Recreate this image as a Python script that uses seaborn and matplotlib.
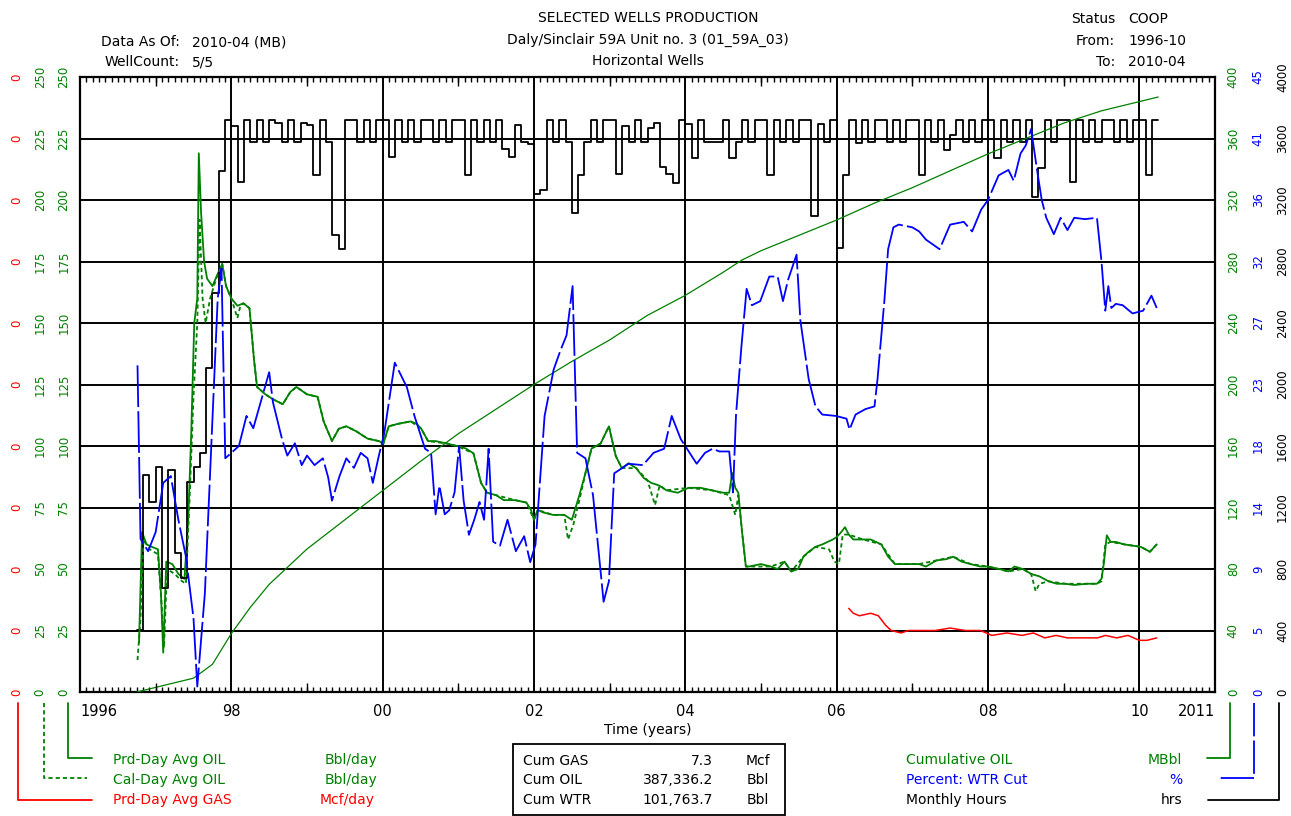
import pandas as pd
import matplotlib
matplotlib.use('Agg')
import matplotlib.pyplot as plt
import seaborn as sns
from matplotlib.patches import Rectangle
from matplotlib.lines import Line2D
from matplotlib.ticker import FixedLocator, FixedFormatter, MultipleLocator

sns.set_theme(style='white')
plt.rcParams['font.family'] = ['DejaVu Sans']
plt.rcParams['lines.scale_dashes'] = False

GREEN = '#008000'
BLUE = '#0000ff'
RED = '#ff0000'

# ---------------- data ----------------
# monthly hours, 1996-10 .. 2010-03
monthly_hours = [
    403, 1411, 1236,
    1463, 676, 1444, 904, 741, 1366, 1463, 1555, 2110, 2598, 3389, 3720,
    3681, 3314, 3720, 3580, 3720, 3580, 3720, 3703, 3580, 3720, 3580, 3703,
    3685, 3364, 3720, 3580, 2970, 2883, 3720, 3720, 3580, 3720, 3580, 3720,
    3720, 3478, 3720, 3580, 3720, 3580, 3720, 3720, 3580, 3720, 3580, 3720,
    3720, 3364, 3720, 3580, 3720, 3580, 3720, 3532, 3478, 3685, 3580, 3565,
    3239, 3265, 3720, 3580, 3720, 3580, 3117, 3364, 3580, 3720, 3580, 3720,
    3720, 3370, 3681, 3580, 3720, 3580, 3670, 3703, 3414, 3370, 3309, 3720,
    3697, 3475, 3720, 3580, 3580, 3580, 3720, 3475, 3580, 3720, 3580, 3720,
    3720, 3362, 3720, 3580, 3720, 3580, 3720, 3720, 3097, 3697, 3580, 3720,
    2890, 3362, 3720, 3568, 3720, 3580, 3720, 3720, 3580, 3720, 3580, 3720,
    3720, 3362, 3720, 3580, 3720, 3524, 3622, 3720, 3580, 3720, 3580, 3720,
    3720, 3475, 3720, 3580, 3720, 3580, 3720, 3218, 3406, 3720, 3580, 3720,
    3720, 3319, 3720, 3580, 3720, 3580, 3720, 3720, 3580, 3720, 3580, 3720,
    3720, 3362, 3720,
]

prd_oil_t = [1996.78, 1996.82, 1996.88, 1996.95, 1997.03, 1997.07, 1997.10, 1997.14, 1997.22, 1997.30,
             1997.38, 1997.43, 1997.47, 1997.51, 1997.55, 1997.57, 1997.60, 1997.64, 1997.68, 1997.75,
             1997.82, 1997.88, 1997.93, 1998.00, 1998.08, 1998.16, 1998.24, 1998.30, 1998.34, 1998.45,
             1998.55, 1998.68, 1998.78, 1998.86, 1999.00, 1999.14, 1999.22, 1999.33, 1999.42, 1999.52,
             1999.65, 1999.80, 1999.95, 2000.01, 2000.08, 2000.20, 2000.37, 2000.45, 2000.51, 2000.60,
             2000.70, 2000.85, 2000.98, 2001.10, 2001.20, 2001.30, 2001.38, 2001.50, 2001.60, 2001.75,
             2001.90, 2001.96, 2002.00, 2002.05, 2002.12, 2002.25, 2002.40, 2002.50, 2002.60, 2002.68,
             2002.76, 2002.88, 2002.99, 2003.08, 2003.16, 2003.25, 2003.35, 2003.45, 2003.55, 2003.65,
             2003.75, 2003.90, 2004.04, 2004.20, 2004.35, 2004.50, 2004.58, 2004.62, 2004.66, 2004.70,
             2004.75, 2004.80, 2004.84, 2005.00, 2005.13, 2005.22, 2005.31, 2005.40, 2005.49, 2005.56,
             2005.63, 2005.72, 2005.81, 2005.95, 2006.00, 2006.06, 2006.11, 2006.16, 2006.22, 2006.35,
             2006.45, 2006.59, 2006.68, 2006.77, 2006.90, 2007.09, 2007.18, 2007.32, 2007.45, 2007.54,
             2007.65, 2007.77, 2007.90, 2008.00, 2008.15, 2008.27, 2008.35, 2008.46, 2008.57, 2008.68,
             2008.80, 2008.91, 2009.02, 2009.14, 2009.30, 2009.44, 2009.50, 2009.53, 2009.57, 2009.62,
             2009.69, 2009.80, 2009.91, 2010.02, 2010.14, 2010.23]
prd_oil = [20, 65, 60, 59, 58, 40, 16, 53, 52, 48,
           46, 70, 105, 150, 160, 219, 195, 175, 168, 165,
           170, 174, 165, 160, 157, 158, 156, 135, 124, 121,
           119, 117, 122, 124, 121, 120, 110, 102, 107, 108,
           106, 103, 102, 101, 108, 109, 110, 109, 107, 102,
           102, 101, 100, 99, 97, 85, 81, 80, 78, 78,
           77, 74, 70, 74, 73, 72, 72, 70, 80, 89,
           99, 101, 108, 96, 91, 93, 91, 87, 85, 84,
           82, 81, 83, 83, 82, 81, 81, 89, 83, 81,
           65, 51, 51, 52, 51, 50, 53, 49, 50, 55,
           57, 59, 60, 62, 63, 65, 67, 64, 62, 62,
           62, 60, 55, 52, 52, 52, 51, 53.5, 54, 55,
           53, 52, 51, 51, 50, 49, 51, 50, 48, 47,
           45, 44, 44, 43.5, 44, 44, 46, 52, 63.7, 61,
           61, 60, 59.5, 59, 57, 60]

cal_oil_t = [1996.76, 1996.80, 1996.84, 1996.92, 1997.03, 1997.08, 1997.11, 1997.15, 1997.25, 1997.35,
             1997.40, 1997.45, 1997.50, 1997.55, 1997.58, 1997.62, 1997.66, 1997.72, 1997.80, 1997.88,
             1997.93, 1998.00, 1998.08, 1998.12, 1998.16, 1998.24, 1998.30, 1998.34, 1998.45, 1998.55,
             1998.68, 1998.78, 1998.86, 1999.00, 1999.14, 1999.22, 1999.33, 1999.42, 1999.52, 1999.65,
             1999.80, 1999.95, 2000.01, 2000.08, 2000.20, 2000.37, 2000.51, 2000.60, 2000.85, 2000.98,
             2001.20, 2001.30, 2001.38, 2001.50, 2001.75, 2001.90, 2002.00, 2002.05, 2002.25, 2002.40,
             2002.45, 2002.52, 2002.60, 2002.68, 2002.76, 2002.88, 2002.99, 2003.08, 2003.16, 2003.35,
             2003.50, 2003.60, 2003.66, 2003.75, 2004.04, 2004.35, 2004.58, 2004.62, 2004.66, 2004.70,
             2004.75, 2004.80, 2004.84, 2005.13, 2005.31, 2005.40, 2005.56, 2005.72, 2005.90, 2005.97,
             2006.03, 2006.08, 2006.16, 2006.35, 2006.59, 2006.77, 2007.09, 2007.32, 2007.54, 2007.77,
             2008.00, 2008.27, 2008.46, 2008.57, 2008.63, 2008.68, 2008.80, 2009.02, 2009.30, 2009.44,
             2009.50, 2009.55, 2009.62, 2009.80, 2010.02, 2010.14, 2010.23]
cal_oil = [13, 30, 62, 58, 56, 35, 18, 50, 48, 45,
           44, 80, 120, 150, 192, 160, 150, 160, 168, 174,
           165, 160, 152, 157, 158, 156, 135, 124, 121, 119,
           117, 122, 124, 121, 120, 110, 102, 107, 108, 106,
           103, 102, 101, 108, 109, 110, 107, 102, 101, 100,
           97, 85, 81, 80, 78, 77, 70, 74, 72, 72,
           62, 68, 78, 89, 99, 101, 108, 96, 91, 91,
           86, 76, 84, 82, 83, 82, 80, 76, 72, 80,
           65, 51, 51, 51, 53, 49, 55, 59, 58, 53,
           52, 64, 64, 62, 60, 52, 52, 53.5, 55, 52,
           51, 49, 50, 48, 41, 44, 45, 44, 44, 44,
           45, 60, 61, 60, 59, 57, 60]

gas_t = [2006.16, 2006.22, 2006.30, 2006.45, 2006.55, 2006.65, 2006.72, 2006.85, 2006.95, 2007.10,
         2007.30, 2007.50, 2007.70, 2007.90, 2008.05, 2008.25, 2008.45, 2008.60, 2008.75, 2008.90,
         2009.05, 2009.25, 2009.45, 2009.55, 2009.70, 2009.85, 2010.00, 2010.10, 2010.23]
gas_rate = [0.034, 0.032, 0.031, 0.032, 0.031, 0.027, 0.025, 0.024, 0.025, 0.025,
            0.025, 0.026, 0.025, 0.025, 0.023, 0.024, 0.023, 0.024, 0.022, 0.023,
            0.022, 0.022, 0.022, 0.023, 0.022, 0.023, 0.021, 0.021, 0.022]

cum_t = [1996.75, 1997.00, 1997.50, 1997.75, 1998.00, 1998.25, 1998.50, 1999.00, 1999.50, 2000.00,
         2000.50, 2001.00, 2001.50, 2002.00, 2002.50, 2003.00, 2003.50, 2004.00, 2004.50, 2004.75,
         2005.00, 2005.50, 2006.00, 2006.50, 2007.00, 2007.50, 2008.00, 2008.50, 2009.00, 2009.50,
         2010.00, 2010.25]
cum_oil = [0, 3, 9, 18, 38, 55, 70, 93, 112, 131,
           150, 168, 184, 200, 215, 229, 245, 258, 273, 281,
           287, 297, 307, 318, 328, 339, 350, 360, 370, 378,
           384, 387]

wc_t = [1996.76, 1996.80, 1996.90, 1997.00, 1997.10, 1997.20, 1997.30, 1997.40, 1997.50, 1997.55,
        1997.65, 1997.75, 1997.82, 1997.87, 1997.92, 1998.00, 1998.10, 1998.20, 1998.29, 1998.50,
        1998.55, 1998.67, 1998.74, 1998.84, 1998.93, 1999.00, 1999.10, 1999.21, 1999.28, 1999.33,
        1999.43, 1999.52, 1999.62, 1999.71, 1999.80, 1999.87, 1999.95, 2000.02, 2000.16, 2000.32,
        2000.42, 2000.56, 2000.64, 2000.70, 2000.75, 2000.82, 2000.88, 2000.95, 2001.01, 2001.07,
        2001.14, 2001.21, 2001.28, 2001.34, 2001.40, 2001.46, 2001.55, 2001.65, 2001.76, 2001.87,
        2001.95, 2002.02, 2002.14, 2002.26, 2002.35, 2002.43, 2002.51, 2002.57, 2002.68, 2002.78,
        2002.92, 2002.99, 2003.06, 2003.25, 2003.44, 2003.58, 2003.72, 2003.82, 2003.94, 2004.15,
        2004.26, 2004.36, 2004.45, 2004.58, 2004.63, 2004.67, 2004.74, 2004.81, 2004.88, 2004.99,
        2005.11, 2005.22, 2005.29, 2005.36, 2005.47, 2005.52, 2005.63, 2005.72, 2005.81, 2005.99,
        2006.13, 2006.17, 2006.25, 2006.38, 2006.50, 2006.54, 2006.59, 2006.63, 2006.68, 2006.75,
        2006.82, 2007.00, 2007.09, 2007.18, 2007.36, 2007.50, 2007.68, 2007.79, 2007.91, 2008.00,
        2008.14, 2008.27, 2008.34, 2008.43, 2008.50, 2008.57, 2008.64, 2008.71, 2008.77, 2008.87,
        2008.96, 2009.05, 2009.14, 2009.28, 2009.44, 2009.50, 2009.55, 2009.59, 2009.63, 2009.69,
        2009.78, 2009.91, 2010.05, 2010.16, 2010.23]
wc_pct = [23.9, 11.2, 10.3, 11.7, 15.3, 15.8, 12.6, 9.9, 5.4, 0.4,
          7.2, 19.8, 28.8, 31.0, 17.1, 17.5, 18.0, 20.2, 19.3, 23.4,
          21.2, 18.5, 17.3, 18.2, 16.6, 17.3, 16.6, 17.1, 15.7, 14.0,
          15.8, 17.1, 16.4, 17.5, 17.1, 15.3, 17.3, 18.9, 24.1, 22.3,
          20.2, 17.8, 17.5, 13.0, 15.1, 13.0, 13.3, 14.6, 18.0, 14.0,
          11.5, 12.6, 13.9, 12.6, 17.8, 11.0, 10.7, 12.6, 10.3, 11.4,
          9.5, 10.8, 20.2, 23.6, 25.0, 26.1, 29.7, 17.5, 17.1, 14.4,
          6.6, 8.1, 16.0, 16.7, 16.6, 17.5, 17.8, 20.2, 18.5, 16.7,
          17.5, 17.8, 17.6, 17.6, 14.6, 20.3, 25.2, 29.5, 28.3, 28.6,
          30.4, 30.4, 28.6, 30.2, 32.0, 27.2, 22.9, 20.9, 20.3, 20.2,
          20.0, 19.2, 20.3, 20.7, 20.9, 22.9, 26.1, 28.6, 32.4, 34.0,
          34.2, 34.0, 33.7, 33.1, 32.4, 34.2, 34.4, 33.7, 35.3, 36.0,
          37.8, 38.2, 37.4, 39.4, 40.0, 41.2, 38.5, 36.0, 34.7, 33.5,
          34.7, 33.8, 34.7, 34.6, 34.7, 31.5, 27.9, 29.7, 28.1, 28.4,
          28.3, 27.7, 27.9, 29.0, 28.1]

# axis ticks / labels
oil_ticks = [0, 25, 50, 75, 100, 125, 150, 175, 200, 225, 250]
oil_labels = ['0', '25', '50', '75', '100', '125', '150', '175', '200', '225', '250']
gas_ticks = [0, 0.025, 0.05, 0.075, 0.1, 0.125, 0.15, 0.175, 0.2, 0.225, 0.25]
gas_labels = ['0'] * 11
cum_ticks = [0, 40, 80, 120, 160, 200, 240, 280, 320, 360, 400]
cum_labels = ['0', '40', '80', '120', '160', '200', '240', '280', '320', '360', '400']
wc_ticks = [0, 4.5, 9, 13.5, 18, 22.5, 27, 31.5, 36, 40.5, 45]
wc_labels = ['0', '5', '9', '14', '18', '23', '27', '32', '36', '41', '45']
hrs_ticks = [0, 400, 800, 1200, 1600, 2000, 2400, 2800, 3200, 3600, 4000]
hrs_labels = ['0', '400', '800', '1200', '1600', '2000', '2400', '2800', '3200', '3600', '4000']
year_ticks = [1996, 1998, 2000, 2002, 2004, 2006, 2008, 2010, 2011]
year_labels = ['1996', '98', '00', '02', '04', '06', '08', '10', '2011']
odd_years = [1997, 1999, 2001, 2003, 2005, 2007, 2009]

# ---------------- layout helpers (pixels of the 1291x816 image) ----------------
W, H = 1291, 816


def fx(px):
    return px / W


def fy(py):
    return 1 - py / H


fig = plt.figure(figsize=(W / 100, H / 100), dpi=100)
fig.patch.set_facecolor('white')
ax = fig.add_axes([fx(80), fy(692), fx(1215) - fx(80), fy(77) - fy(692)])
ax.set_facecolor('white')
ax_hrs = ax.twinx()
ax_cal = ax.twinx()
ax_gas = ax.twinx()
ax_cum = ax.twinx()
ax_wc = ax.twinx()
ax_yr = ax.twiny()

# monthly hours as steps
hrs_edges = pd.date_range('1996-10-01', periods=len(monthly_hours) + 1, freq='MS')
hrs_df = pd.DataFrame({
    't': hrs_edges.year + (hrs_edges.month - 1) / 12,
    'hrs': monthly_hours + [monthly_hours[-1]],
})
sns.lineplot(data=hrs_df, x='t', y='hrs', ax=ax_hrs, color='black', lw=1.3,
             drawstyle='steps-post', estimator=None, sort=False)

sns.lineplot(x=prd_oil_t, y=prd_oil, ax=ax, color=GREEN, lw=1.3, estimator=None, sort=False)
sns.lineplot(x=cal_oil_t, y=cal_oil, ax=ax_cal, color=GREEN, lw=1.3, estimator=None, sort=False)
ax_cal.lines[-1].set_dashes((3, 2.2))
sns.lineplot(x=gas_t, y=gas_rate, ax=ax_gas, color=RED, lw=1.1, estimator=None, sort=False)
sns.lineplot(x=cum_t, y=cum_oil, ax=ax_cum, color=GREEN, lw=0.9, estimator=None, sort=False)
sns.lineplot(x=wc_t, y=wc_pct, ax=ax_wc, color=BLUE, lw=1.3, estimator=None, sort=False)
ax_wc.lines[-1].set_dashes((30, 3))


def side_axis(a, side, lo, hi, ticks, labels, color, pad):
    a.set_ylim(lo, hi)
    a.yaxis.set_major_locator(FixedLocator(ticks))
    a.yaxis.set_major_formatter(FixedFormatter(labels))
    if side == 'left':
        a.yaxis.tick_left()
    else:
        a.yaxis.tick_right()
    a.tick_params(axis='y', which='both', length=0, pad=pad, labelcolor=color,
                  labelsize=8.5, labelrotation=90,
                  labelfontfamily=['Liberation Sans Narrow', 'DejaVu Sans'])
    plt.setp(a.get_yticklabels(), va='center')
    a.set_ylabel('')
    a.set_xlabel('')


side_axis(ax, 'left', 0, 250, oil_ticks, oil_labels, GREEN, 7)
side_axis(ax_cal, 'left', 0, 250, oil_ticks, oil_labels, GREEN, 24)
side_axis(ax_gas, 'left', 0, 0.25, gas_ticks, gas_labels, RED, 41)
side_axis(ax_cum, 'right', 0, 400, cum_ticks, cum_labels, GREEN, 8.5)
side_axis(ax_wc, 'right', 0, 45, wc_ticks, wc_labels, BLUE, 26.5)
side_axis(ax_hrs, 'right', 0, 4000, hrs_ticks, hrs_labels, 'black', 44)

for a in [ax_hrs, ax_cal, ax_gas, ax_cum, ax_wc, ax_yr]:
    for s in a.spines.values():
        s.set_visible(False)
for s in ax.spines.values():
    s.set_visible(True)
    s.set_color('black')
    s.set_linewidth(1.6)

# x axis
ax.set_xlim(1996, 2011)
ax.xaxis.set_major_locator(FixedLocator(year_ticks))
ax.xaxis.set_major_formatter(FixedFormatter(year_labels))
ax.xaxis.set_minor_locator(MultipleLocator(1 / 12))
ax.tick_params(axis='x', which='major', length=0, pad=9, labelsize=10.5, labelcolor='black')
ax.tick_params(axis='x', which='minor', direction='in', length=3.5, width=1,
               color='black', top=True, bottom=True)
xl = ax.get_xticklabels()
xl[0].set_ha('left')
xl[-1].set_ha('right')
ax.grid(True, which='major', color='black', lw=1.4)

ax_yr.set_xlim(1996, 2011)
ax_yr.xaxis.set_major_locator(FixedLocator(odd_years))
ax_yr.xaxis.set_ticks_position('both')
ax_yr.tick_params(axis='x', direction='in', length=6.5, width=1, color='black',
                  labeltop=False, labelbottom=False)
ax_yr.grid(False)


# ---------------- text ----------------
def ftext(x, y, s, color='black', ha='left', size=10):
    fig.text(fx(x), fy(y), s, color=color, ha=ha, va='center', fontsize=size)


ftext(648, 18, 'SELECTED WELLS PRODUCTION', ha='center')
ftext(648, 40, 'Daly/Sinclair 59A Unit no. 3 (01_59A_03)', ha='center')
ftext(648, 61, 'Horizontal Wells', ha='center')
ftext(180, 42, 'Data As Of:', ha='right')
ftext(192, 42, '2010-04 (MB)')
ftext(180, 62, 'WellCount:', ha='right')
ftext(192, 62, '5/5')
ftext(1115, 19, 'Status', ha='right')
ftext(1128, 19, 'COOP')
ftext(1115, 41, 'From:', ha='right')
ftext(1128, 41, '1996-10')
ftext(1115, 62, 'To:', ha='right')
ftext(1128, 62, '2010-04')
ftext(648, 730, 'Time (years)', ha='center')

# cum box
fig.add_artist(Rectangle((fx(513), fy(815)), fx(785) - fx(513), fy(744) - fy(815),
                         transform=fig.transFigure, fill=False, ec='black', lw=1.3))
ftext(523, 761, 'Cum GAS')
ftext(713, 761, '7.3', ha='right')
ftext(758, 761, 'Mcf', ha='center')
ftext(523, 780, 'Cum OIL')
ftext(713, 780, '387,336.2', ha='right')
ftext(758, 780, 'Bbl', ha='center')
ftext(523, 800, 'Cum WTR')
ftext(713, 800, '101,763.7', ha='right')
ftext(758, 800, 'Bbl', ha='center')


# legend connectors
def fig_line(xs, ys, color, dashes=None):
    ln = Line2D([fx(x) for x in xs], [fy(y) for y in ys], color=color, lw=1.3,
                transform=fig.transFigure)
    if dashes:
        ln.set_dashes(dashes)
    fig.add_artist(ln)


fig_line([68, 68, 92], [703, 758, 758], GREEN)
fig_line([44, 44, 87], [703, 778, 778], GREEN, (3, 2.2))
fig_line([18, 18, 92], [703, 800, 800], RED)
fig_line([1230, 1230, 1207], [703, 758, 758], GREEN)
fig_line([1254, 1254, 1220], [703, 778, 778], BLUE, (24, 3))
fig_line([1279, 1279, 1208], [703, 800, 800], 'black')

ftext(113, 760, 'Prd-Day Avg OIL', GREEN)
ftext(325, 760, 'Bbl/day', GREEN)
ftext(113, 780, 'Cal-Day Avg OIL', GREEN)
ftext(325, 780, 'Bbl/day', GREEN)
ftext(113, 800, 'Prd-Day Avg GAS', RED)
ftext(320, 800, 'Mcf/day', RED)
ftext(906, 760, 'Cumulative OIL', GREEN)
ftext(1182, 760, 'MBbl', GREEN, ha='right')
ftext(906, 780, 'Percent: WTR Cut', BLUE)
ftext(1176, 780, '%', BLUE, ha='center')
ftext(906, 800, 'Monthly Hours', 'black')
ftext(1182, 800, 'hrs', 'black', ha='right')

fig.savefig('out.png', dpi=100, facecolor='white')
